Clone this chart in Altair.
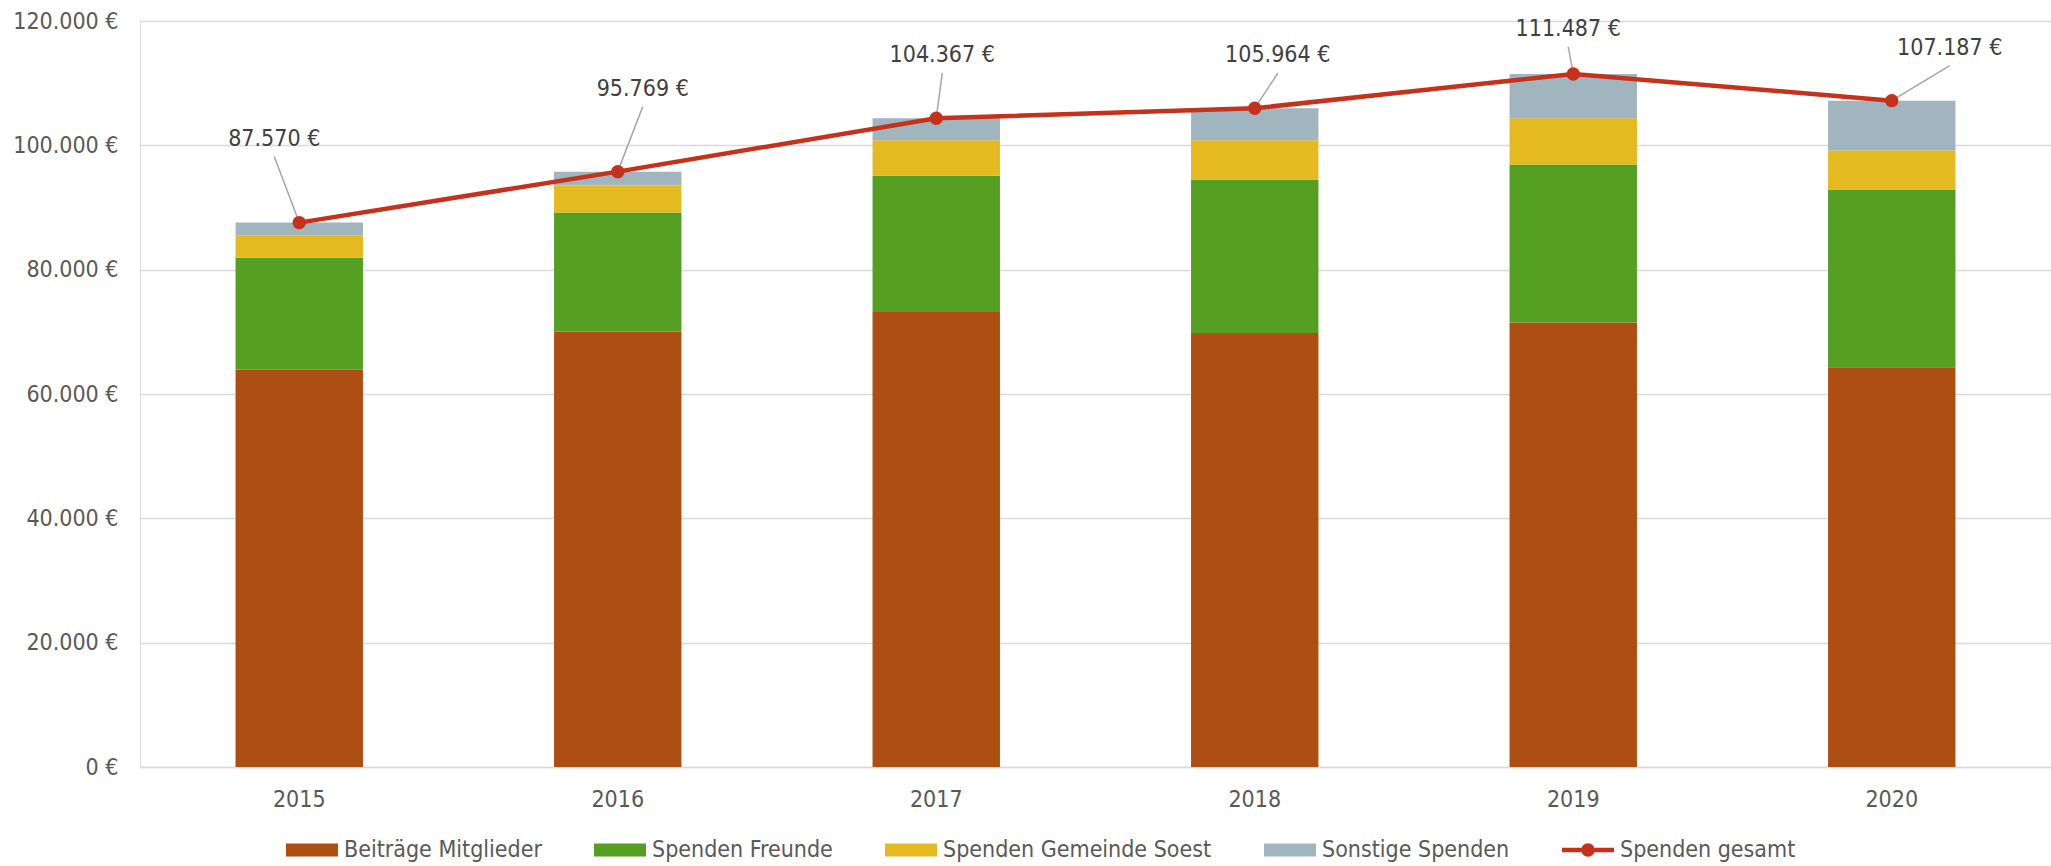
import altair as alt
import pandas as pd

# ---------------- data ----------------
YEARS = ["2015", "2016", "2017", "2018", "2019", "2020"]
BEITRAEGE = [63900, 70040, 73200, 69800, 71500, 64300]
FREUNDE = [18000, 19140, 21900, 24700, 25400, 28600]
GEMEINDE = [3540, 4340, 5700, 6300, 7460, 6250]
SONSTIGE = [2130, 2249, 3567, 5164, 7127, 8037]
GESAMT = [87570, 95769, 104367, 105964, 111487, 107187]

SERIES = ["Beiträge Mitglieder", "Spenden Freunde", "Spenden Gemeinde Soest",
          "Sonstige Spenden", "Spenden gesamt"]
COLORS = ["#AD4E12", "#55A023", "#E5B920", "#A1B5BF", "#C5311A"]

# ---------------- layout constants ----------------
FONT = "DejaVu Sans Condensed"
LABEL_DX = [-25, 25, 6, 23, -5, 58]
LABEL_DY = [-84, -83, -63, -53, -45, -53]

rows = []
for name, vals in zip(SERIES[:4], [BEITRAEGE, FREUNDE, GEMEINDE, SONSTIGE]):
    for i, (y, v) in enumerate(zip(YEARS, vals)):
        rows.append({"year": y, "series": name, "value": v, "order": SERIES.index(name)})
bars_df = pd.DataFrame(rows)
line_df = pd.DataFrame({"year": YEARS, "total": GESAMT, "series": SERIES[4]})

RECT = "M-1,-0.25H1V0.25H-1Z"
LINESYM = ("M-1,-0.09H1V0.09H-1Z "
           "M-0.26,0A0.26,0.26 0 1,1 0.26,0A0.26,0.26 0 1,1 -0.26,0Z")

color_scale = alt.Scale(domain=SERIES, range=COLORS)
legend = alt.Legend(
    orient="none", legendX=146, legendY=803, direction="horizontal", title=None,
    labelFont=FONT, labelFontSize=23, labelColor="#595959",
    symbolType=alt.ExprRef(expr="datum.value === 'Spenden gesamt' ? '" + LINESYM + "' : '" + RECT + "'"),
    symbolFillColor=alt.ExprRef(expr="scale('color', datum.value)"),
    symbolSize=2704, symbolStrokeWidth=0, symbolOpacity=1,
    columnPadding=52, labelOffset=6, labelLimit=400,
)

x_enc = alt.X("year:N", title=None, sort=YEARS,
              scale=alt.Scale(paddingInner=0.6, paddingOuter=0.3),
              axis=alt.Axis(labelAngle=0, labelFont=FONT, labelFontSize=23,
                            labelColor="#595959", labelPadding=21, ticks=False,
                            domainColor="#D9D9D9", domainWidth=1.5, grid=False))
y_scale = alt.Scale(domain=[0, 120000], nice=False)
y_axis = alt.Axis(values=list(range(0, 120001, 20000)), title=None,
                  labelFont=FONT, labelFontSize=23, labelColor="#595959",
                  labelPadding=22, ticks=False, domain=False,
                  gridColor="#D9D9D9", gridWidth=1.5,
                  labelExpr="replace(format(datum.value, ',.0f'), ',', '.') + ' €'")

bars = alt.Chart(bars_df).mark_bar().encode(
    x=x_enc,
    y=alt.Y("value:Q", stack="zero", scale=y_scale, axis=y_axis),
    color=alt.Color("series:N", scale=color_scale, legend=legend, sort=SERIES),
    order=alt.Order("order:Q", sort="ascending"),
)

layers = [bars]

# leader lines and value labels
for i, yr in enumerate(YEARS):
    base = alt.Chart(line_df).transform_filter(alt.datum.year == yr)
    rule = base.mark_rule(color="#A6A6A6", strokeWidth=1.5,
                          x2Offset=LABEL_DX[i], y2Offset=LABEL_DY[i] + 18).encode(
        x=alt.X("year:N", sort=YEARS, bandPosition=0.5),
        x2=alt.X2("year:N", bandPosition=0.5),
        y=alt.Y("total:Q"),
        y2=alt.Y2("total:Q"),
    )
    txt = base.transform_calculate(
        label="replace(format(datum.total, ',.0f'), ',', '.') + ' €'"
    ).mark_text(font=FONT, fontSize=23, color="#404040", baseline="middle",
                align="center", dx=LABEL_DX[i], dy=LABEL_DY[i]).encode(
        x=alt.X("year:N", sort=YEARS),
        y=alt.Y("total:Q"),
        text="label:N",
    )
    layers += [rule, txt]

line = alt.Chart(line_df).mark_line(strokeWidth=4.5).encode(
    x=alt.X("year:N", sort=YEARS),
    y=alt.Y("total:Q"),
    color=alt.Color("series:N", scale=color_scale, legend=legend, sort=SERIES),
)
pts = alt.Chart(line_df).mark_circle(size=180, opacity=1).encode(
    x=alt.X("year:N", sort=YEARS),
    y=alt.Y("total:Q"),
    color=alt.Color("series:N", scale=color_scale, legend=legend, sort=SERIES),
)
layers += [line, pts]

chart = alt.layer(*layers).properties(
    width=1911, height=746,
    autosize=alt.AutoSizeParams(type="none"),
    padding={"left": 140, "top": 21, "right": 0, "bottom": 99},
).configure_view(stroke=None).configure(background="white")

chart.save("out.html", embed_options={"renderer": "svg", "actions": False})
